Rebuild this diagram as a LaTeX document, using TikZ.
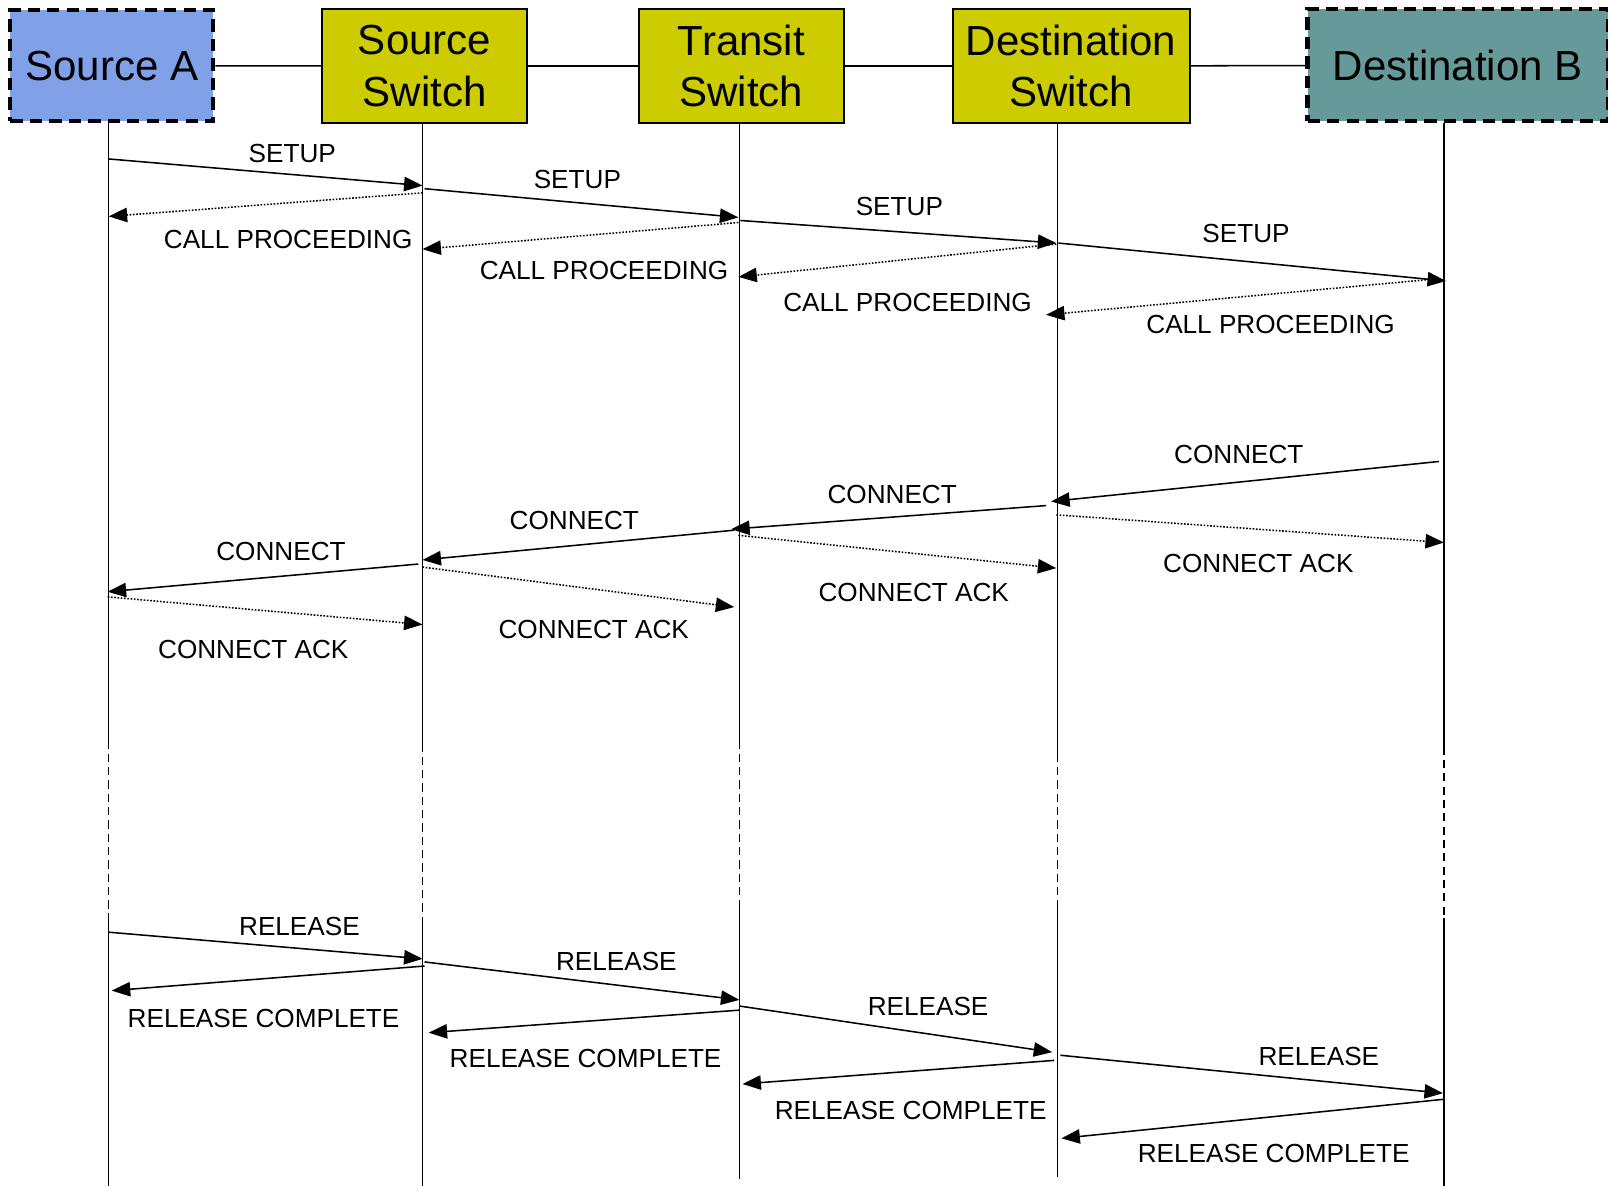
\documentclass[tikz,border=0pt]{standalone}
\usepackage{fontspec}
\setmainfont{Liberation Sans}
\usetikzlibrary{arrows.meta}
\definecolor{srcblue}{RGB}{128,160,232}
\definecolor{swyellow}{RGB}{204,204,0}
\definecolor{dstteal}{RGB}{102,153,153}
\begin{document}
\begin{tikzpicture}[x=1pt, y=-1pt, >={Triangle[length=18pt,width=14pt]},
    endpoint/.style={draw, line width=4pt, dash pattern=on 12pt off 7pt,
      inner sep=0pt, font=\fontsize{41}{50}\selectfont},
    switchbox/.style={draw, line width=1.8pt, fill=swyellow, align=center,
      inner sep=0pt, minimum height=111pt, font=\fontsize{41}{50}\selectfont},
    life/.style={line width=1.5pt},
    gap/.style={line width=1.5pt, dash pattern=on 8pt off 5pt},
    msg/.style={->, line width=1.5pt},
    ack/.style={->, line width=1.5pt, dash pattern=on 1.6pt off 1.6pt},
    lbl/.style={inner sep=0pt, font=\fontsize{25.5}{30}\selectfont}]
    \useasboundingbox (0,0) rectangle (1568,1156);

    % entities
    \node[endpoint, fill=srcblue, minimum width=198pt, minimum height=108pt] (A) at (109,64) {Source A};
    \node[switchbox, minimum width=200pt] (SS) at (414,64.5) {Source\\Switch};
    \node[switchbox, minimum width=200pt] (TS) at (723,64.5) {Transit\\Switch};
    \node[switchbox, minimum width=231pt] (DS) at (1044.5,64.5) {Destination\\Switch};
    \node[endpoint, fill=dstteal, minimum width=293pt, minimum height=109pt] (B) at (1421.5,63.5) {Destination B};

    \draw[life] (A) -- (SS);
    \draw[life] (SS) -- (TS);
    \draw[life] (TS) -- (DS);
    \draw[life] (DS) -- (B);

    % lifelines
    \foreach \n/\x/\a/\b/\e in {A/106/722/890/1156, SS/412/725/895/1156, TS/721/722/885/1150,
        DS/1031/735/880/1148, B/1408/728/895/1156} {
      \coordinate (\n-gs) at (\x,\a);
      \coordinate (\n-ge) at (\x,\b);
      \coordinate (\n-end) at (\x,\e);
      \draw[life] (\n.south -| \n-gs) -- (\n-gs);
      \draw[gap] (\n-gs) -- (\n-ge);
      \draw[life] (\n-ge) -- (\n-end);
    }

    % messages
    \foreach \i/\xa/\ya/\xb/\yb/\s in {
        1/106/155/412/181/msg, 2/412/188/106/211/ack,
        3/414/184/720/212/msg, 4/720/217/412/243/ack,
        5/722/215/1030/237/msg, 6/1030/238/720/270/ack,
        7/1032/237/1410/274/msg, 8/1400/272/1020/307/ack,
        9/1403/450/1025/489/msg, 10/1030/502/1408/529/ack,
        11/1020/493/713/516/msg, 12/720/522/1030/554/ack,
        13/716/517/412/546/msg, 14/412/553/716/592/ack,
        15/408/550/105/577/msg, 16/105/582/412/609/ack,
        17/106/909/412/935/msg, 18/414/942/109/966/msg,
        19/414/938/721/975/msg, 20/721/985/418/1007/msg,
        21/721/981/1026/1026/msg, 22/1028/1034/724/1057/msg,
        23/1034/1029/1407/1066/msg, 24/1407/1072/1035/1110/msg} {
      \coordinate (m\i s) at (\xa,\ya);
      \coordinate (m\i e) at (\xb,\yb);
      \draw[\s] (m\i s) -- (m\i e);
    }

    % labels
    \foreach \i/\x/\y/\t in {
        1/285/150/SETUP, 2/281/234/CALL PROCEEDING,
        3/563/175/SETUP, 4/589/264/CALL PROCEEDING,
        5/877/201/SETUP, 6/885/295/CALL PROCEEDING,
        7/1215/228/SETUP, 8/1239/316/CALL PROCEEDING,
        9/1208/443/CONNECT, 10/1227/549/CONNECT ACK,
        11/870/482/CONNECT, 12/891/578/CONNECT ACK,
        13/560/508/CONNECT, 14/579/614/CONNECT ACK,
        15/274/538/CONNECT, 16/247/633/CONNECT ACK,
        17/292/903/RELEASE, 18/257/993/RELEASE COMPLETE,
        19/601/938/RELEASE, 20/571/1032/RELEASE COMPLETE,
        21/905/981/RELEASE, 22/888/1083/RELEASE COMPLETE,
        23/1286/1030/RELEASE, 24/1242/1125/RELEASE COMPLETE} {
      \node[lbl] (t\i) at (\x,\y) {\t};
    }
\end{tikzpicture}
\end{document}
